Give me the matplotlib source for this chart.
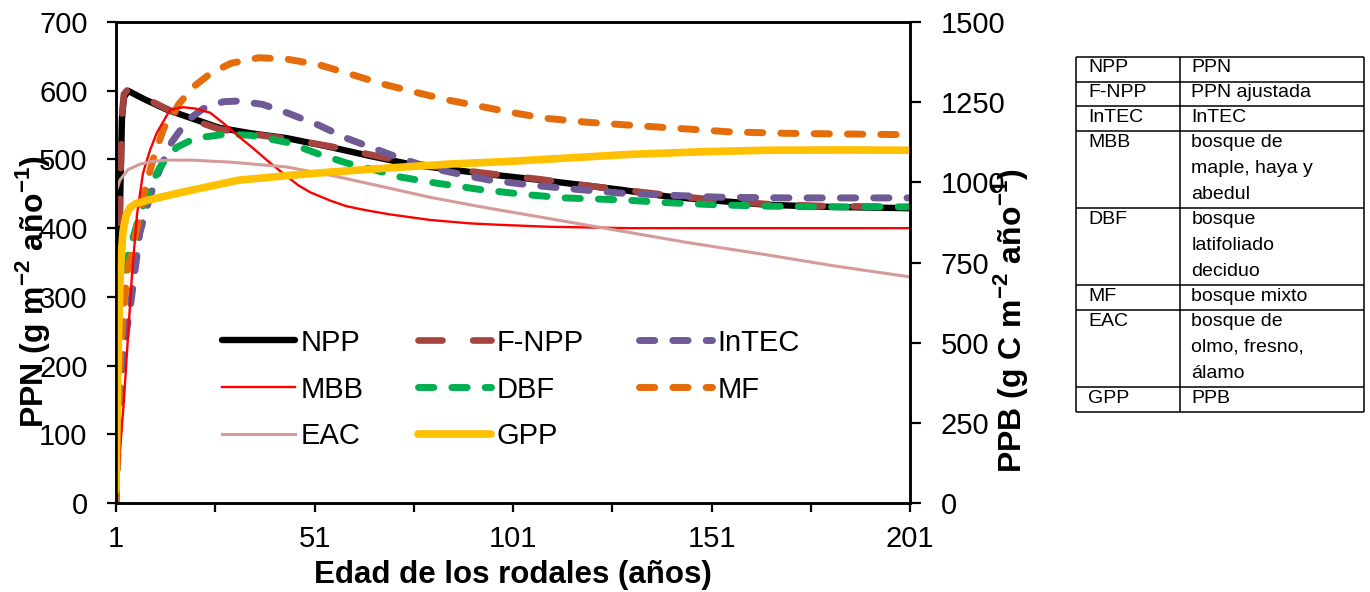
import matplotlib
matplotlib.use('Agg')
import matplotlib.pyplot as plt

plt.rcParams['font.family'] = ['Liberation Sans', 'DejaVu Sans']
plt.rcParams['mathtext.fontset'] = 'custom'
plt.rcParams['mathtext.rm'] = 'Liberation Sans'
plt.rcParams['mathtext.bf'] = 'Liberation Sans:bold'

# --- data ---
npp_x = [1, 1.5, 2, 2.5, 3, 4, 5, 8, 14, 20, 27, 35, 44, 55, 65, 76, 87, 97, 108, 118, 128, 140, 152, 165, 180, 201]
npp_y = [0, 200, 430, 560, 590, 600, 597, 588, 572, 560, 546, 538, 531, 518, 505, 492, 484, 477, 470, 463, 456, 446, 440, 434, 431, 429]

fnpp_x = npp_x
fnpp_y = [10, 210, 440, 565, 595, 602, 600, 590, 573, 558, 544, 537, 530, 519, 507, 494, 485, 478, 471, 463, 456, 448, 441, 435, 432, 431]

intec_x = [1, 2, 3, 4.5, 7, 9.5, 12, 15, 19, 23, 28, 32, 38, 44, 52, 59, 65, 72, 80, 88, 95, 105, 114, 128, 140, 153, 170, 185, 201]
intec_y = [0, 154, 225, 281, 393, 445, 485, 525, 557, 574, 584, 585, 580, 568, 550, 531, 518, 503, 488, 478, 470, 463, 458, 451, 448, 445, 444, 444, 444]

dbf_x = [1, 1.3, 2, 3, 4, 5.5, 7, 9.6, 12, 14, 16.4, 21, 29, 35, 44, 52, 59, 66, 72, 80, 93, 104, 114, 129, 140, 152, 165, 180, 201]
dbf_y = [0, 230, 290, 330, 360, 390, 420, 460, 488, 504, 518, 531, 537, 535, 525, 508, 495, 485, 475, 467, 456, 449, 444, 441, 437, 434, 432, 431, 431]

mf_x = [1, 2, 3, 4, 5.3, 7, 8.5, 10.3, 13, 17, 21, 25, 30, 37, 44, 52, 59, 68, 77, 85, 93, 100, 109, 120, 130, 143, 156, 170, 185, 201]
mf_y = [0, 200, 290, 340, 373, 420, 460, 499, 545, 582, 608, 626, 640, 648, 646, 638, 626, 610, 597, 586, 577, 569, 560, 554, 550, 545, 540, 538, 537, 536]

mbb_x = [1, 3, 5, 6.3, 7.8, 9.6, 11.3, 14.6, 17.9, 21, 24.7, 28, 32, 36, 39, 43, 47, 50, 55, 59, 64, 70, 80, 90, 97, 110, 130, 160, 201]
mbb_y = [0, 150, 330, 420, 480, 514, 539, 572, 576, 574, 568, 553, 533, 514, 499, 480, 462, 452, 440, 432, 426, 420, 412, 407, 405, 402, 400, 400, 400]

eac_x = [1, 2, 4, 7, 10, 14, 20, 30, 44, 55, 59, 70, 80, 92, 105, 118, 130, 145, 164, 182, 201]
eac_y = [453, 470, 485, 493, 497, 499, 499, 496, 489, 477, 472, 458, 445, 432, 419, 406, 394, 379, 362, 345, 329]

gpp_x = [1, 1.3, 1.6, 2, 2.4, 2.8, 3.5, 4.5, 6, 9.6, 17.9, 32, 45, 55, 70, 85, 101, 115, 130, 150, 165, 185, 201]
gpp_y = [40, 300, 500, 686, 790, 850, 895, 920, 934, 946, 970, 1007, 1022, 1032, 1045, 1057, 1066, 1076, 1087, 1096, 1100, 1101, 1100]

x_ticks = [1, 51, 101, 151, 201]
x_minor = [26, 76, 126, 176]
left_ticks = [0, 100, 200, 300, 400, 500, 600, 700]
right_ticks = [0, 250, 500, 750, 1000, 1250, 1500]

table_codes = ['NPP', 'F-NPP', 'InTEC', 'MBB', 'DBF', 'MF', 'EAC', 'GPP']
table_desc = ['PPN', 'PPN ajustada', 'InTEC', 'bosque de\nmaple, haya y\nabedul',
              'bosque\nlatifoliado\ndeciduo', 'bosque mixto',
              'bosque de\nolmo, fresno,\nálamo', 'PPB']

# --- figure ---
fig = plt.figure(figsize=(13.7, 5.92), dpi=100)
ax = fig.add_axes([116 / 1370, 1 - 503 / 592, 794 / 1370, 481 / 592])
ax2 = ax.twinx()

dash = (0, (2.2, 2.6))
h_npp, = ax.plot(npp_x, npp_y, color='black', lw=4.6, solid_capstyle='round', label='NPP')
h_fnpp, = ax.plot(fnpp_x, fnpp_y, color='#A5443F', lw=4.8, ls=(0, (3.6, 4.6)),
                  dash_capstyle='round', label='F-NPP')
h_intec, = ax.plot(intec_x, intec_y, color='#6F5A96', lw=5, ls=dash, dash_capstyle='round', label='InTEC')
h_dbf, = ax.plot(dbf_x, dbf_y, color='#00B050', lw=5, ls=dash, dash_capstyle='round', label='DBF')
h_mf, = ax.plot(mf_x, mf_y, color='#E46C0A', lw=5, ls=dash, dash_capstyle='round', label='MF')
h_mbb, = ax.plot(mbb_x, mbb_y, color='#FF0000', lw=1.7, label='MBB')
h_eac, = ax.plot(eac_x, eac_y, color='#D59A9A', lw=2.2, label='EAC')
h_gpp, = ax2.plot(gpp_x, gpp_y, color='#FFC000', lw=5.5, solid_capstyle='round', label='GPP')

ax.set_xlim(1, 201)
ax.set_ylim(0, 700)
ax2.set_ylim(0, 1500)
ax.set_xticks(x_ticks)
ax.set_xticks(x_minor, minor=True)
ax.set_yticks(left_ticks)
ax2.set_yticks(right_ticks)

for a in (ax, ax2):
    for s in a.spines.values():
        s.set_linewidth(1.8)
ax.tick_params(axis='x', which='both', direction='out', length=6.5, width=1.6)
ax.tick_params(axis='x', which='major', labelsize=21, pad=9)
ax.tick_params(axis='y', direction='out', length=6.5, width=1.6, labelsize=21, pad=14)
ax2.tick_params(axis='y', direction='out', length=8, width=1.6, labelsize=21, pad=14)

ax.set_xlabel('Edad de los rodales (años)', fontsize=22.5, fontweight='bold')
ax.xaxis.set_label_coords(0.5, -0.15)
ax.xaxis.label.set_verticalalignment('center')

ax.set_ylabel(r'PPN (g m$^{\mathbf{-2}}$ año$^{\mathbf{-1}}$)', fontsize=23, fontweight='bold')
ax.yaxis.set_label_coords(-0.105, 0.44)
ax.yaxis.label.set_verticalalignment('center')

ax2.set_ylabel(r'PPB (g C m$^{\mathbf{-2}}$ año$^{\mathbf{-1}}$)', fontsize=23, fontweight='bold')
ax2.yaxis.set_label_coords(1.126, 0.38)
ax2.yaxis.label.set_verticalalignment('center')

handles = [h_npp, h_mbb, h_eac, h_fnpp, h_dbf, h_gpp, h_intec, h_mf]
ax2.legend(handles=handles, ncol=3, frameon=False, fontsize=21,
           loc='upper left', bbox_to_anchor=(0.115, 0.393), borderpad=0,
           handlelength=2.5, handletextpad=0.2, columnspacing=1.87, labelspacing=0.65)

# --- side table ---
tab = fig.add_axes([1076 / 1370, 1 - 412 / 592, 288 / 1370, 355 / 592])
tab.axis('off')
heights = [1 + 1.06 * (d.count('\n')) for d in table_desc]
total = sum(heights)
tab.set_xlim(0, 1)
tab.set_ylim(total, 0)
split = 0.361
top = 0
tab.hlines(0, 0, 1, color='black', lw=1.1, clip_on=False)
for code, desc, h in zip(table_codes, table_desc, heights):
    tab.text(0.042, top + 0.1, code, fontsize=14, va='top', ha='left')
    for i, line in enumerate(desc.split('\n')):
        tab.text(split + 0.04, top + 0.1 + i * 1.06, line, fontsize=14, va='top', ha='left')
    top += h
    tab.hlines(top, 0, 1, color='black', lw=1.1, clip_on=False)
tab.vlines([0, split, 1], 0, total, color='black', lw=1.1, clip_on=False)

fig.savefig('out.png', dpi=100)
